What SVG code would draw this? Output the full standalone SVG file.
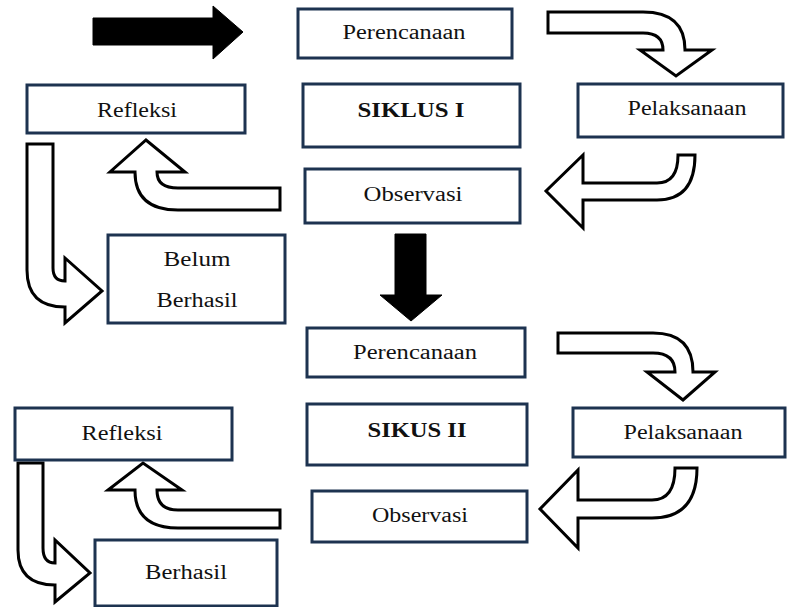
<svg xmlns="http://www.w3.org/2000/svg" width="788" height="607" viewBox="0 0 788 607">
<style>
.box{fill:#fff;stroke:#1d3350;stroke-width:3}
.t{font-family:"Liberation Serif","Times New Roman",serif;font-size:20px;fill:#111;text-anchor:middle}
.b{font-weight:bold}
.oa{fill:#fff;stroke:#000;stroke-width:3;stroke-linejoin:miter}
.sa{fill:#000;stroke:#000;stroke-width:1}
</style>
<rect width="788" height="607" fill="#fff"/>
<g id="connectors">
<polygon class="sa" points="93,18 213,18 213,6 243,32 213,59 213,45 93,45"/>
<polygon class="sa" points="395,234 426,234 426,295 442,295 411,321 380,295 395,295"/>
<path class="oa" d="M548,12 L643,12 Q685,12 685,50 L712,50 L676,76 L640,50 L663,50 Q663,33 643,33 L548,33 Z"/>
<path class="oa" d="M695,155 Q695,200 657,200 L583,200 L583,228 L546,191 L583,155 L583,183 L657,183 Q678,183 678,155 Z"/>
<path class="oa" d="M280,188 L178,188 Q157,188 157,172 L185,172 L146,140 L110,172 L135,172 Q135,210 178,210 L280,210 Z"/>
<path class="oa" d="M27,144 L53,144 L53,268 Q53,281 65,281 L65,258 L102,291 L65,323 L65,307 Q27,307 27,270 Z"/>
<path class="oa" d="M558,333 L653,333 Q693,333 693,372 L715,372 L683,400 L647,372 L675,372 Q675,353 653,353 L558,353 Z"/>
<path class="oa" d="M697,468 Q697,518 652,518 L578,518 L578,548 L540,509 L578,470 L578,500 L652,500 Q675,500 675,468 Z"/>
<path class="oa" d="M280,510 L178,510 Q157,510 157,490 L182,490 L143,463 L108,490 L135,490 Q135,528 178,528 L280,528 Z"/>
<path class="oa" d="M18,463 L43,463 L43,548 Q43,563 55,563 L55,540 L90,573 L55,602 L55,585 Q18,585 18,550 Z"/>
</g>
<g id="perencanaan1"><rect class="box" x="298" y="9" width="214" height="49"/><text class="t" x="404" y="39" textLength="123" lengthAdjust="spacingAndGlyphs">Perencanaan</text></g>
<g id="siklus1"><rect class="box" x="303" y="84" width="217" height="63"/><text class="t b" x="411" y="117" textLength="107" lengthAdjust="spacingAndGlyphs">SIKLUS I</text></g>
<g id="refleksi1"><rect class="box" x="27" y="85" width="218" height="48"/><text class="t" x="137" y="117" textLength="80" lengthAdjust="spacingAndGlyphs">Refleksi</text></g>
<g id="pelaksanaan1"><rect class="box" x="578" y="84" width="205" height="53"/><text class="t" x="687" y="115" textLength="119" lengthAdjust="spacingAndGlyphs">Pelaksanaan</text></g>
<g id="observasi1"><rect class="box" x="305" y="169" width="215" height="54"/><text class="t" x="413" y="201" textLength="99" lengthAdjust="spacingAndGlyphs">Observasi</text></g>
<g id="belumberhasil"><rect class="box" x="108" y="235" width="177" height="88"/><text class="t" x="197" y="266" textLength="67" lengthAdjust="spacingAndGlyphs">Belum</text><text class="t" x="197" y="307" textLength="81" lengthAdjust="spacingAndGlyphs">Berhasil</text></g>
<g id="perencanaan2"><rect class="box" x="307" y="328" width="218" height="49"/><text class="t" x="415" y="359" textLength="124" lengthAdjust="spacingAndGlyphs">Perencanaan</text></g>
<g id="siklus2"><rect class="box" x="307" y="404" width="220" height="61"/><text class="t b" x="417" y="437" textLength="99" lengthAdjust="spacingAndGlyphs">SIKUS II</text></g>
<g id="pelaksanaan2"><rect class="box" x="573" y="408" width="212" height="49"/><text class="t" x="683" y="439" textLength="119" lengthAdjust="spacingAndGlyphs">Pelaksanaan</text></g>
<g id="refleksi2"><rect class="box" x="15" y="408" width="217" height="52"/><text class="t" x="122" y="440" textLength="81" lengthAdjust="spacingAndGlyphs">Refleksi</text></g>
<g id="observasi2"><rect class="box" x="312" y="491" width="215" height="51"/><text class="t" x="420" y="522" textLength="96" lengthAdjust="spacingAndGlyphs">Observasi</text></g>
<g id="berhasil"><rect class="box" x="95" y="540" width="182" height="66"/><text class="t" x="186" y="579" textLength="82" lengthAdjust="spacingAndGlyphs">Berhasil</text></g>
</svg>
